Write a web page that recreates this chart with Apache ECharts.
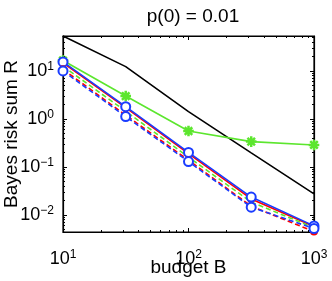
<!DOCTYPE html>
<html><head><meta charset="utf-8">
<script src="https://cdn.jsdelivr.net/npm/echarts@6/dist/echarts.min.js"></script>
<style>html,body{margin:0;padding:0;background:#fff;}#c{width:332px;height:281px;}</style>
</head><body><div id="c"></div>
<script>
// ---- data ----
var budgets = [10, 31.6, 100, 316, 1000];
var blackSolid = [53.5, 12.3, 1.42, 0.196, 0.0274];
var greenSolid = [16.5, 3.0, 0.56, 0.337, 0.287];
var redSolid = [14.8, 1.72, 0.19, 0.0215, 0.0057];
var blueSolid = [15.4, 1.8, 0.20, 0.0235, 0.0059];
var greenDashed = [12.5, 1.45, 0.16, 0.0185, 0.0054];
var redDashed = [10.8, 1.2, 0.138, 0.0152, 0.0045];
var blueDashed = [10.0, 1.12, 0.129, 0.0145, 0.0052];
var xMinorTicks = [20,30,40,50,60,70,80,90,200,300,400,500,600,700,800,900];
var yMinorTicks = [0.005,0.006,0.007,0.008,0.009,0.02,0.03,0.04,0.05,0.06,0.07,0.08,0.09,
                   0.2,0.3,0.4,0.5,0.6,0.7,0.8,0.9,2,3,4,5,6,7,8,9,20,30,40,50];
var titleText = 'p(0) = 0.01';
var xName = 'budget B';
var yName = 'Bayes risk sum R';

function pts(arr){ return budgets.map(function(b,i){ return [b, arr[i]]; }); }
var FONT = '"Liberation Sans", Arial, sans-serif';
var star = 'path://M9 0H11V20H9Z M0 9H20V11H0Z M2.2 3.6L3.6 2.2L17.8 16.4L16.4 17.8Z M16.4 2.2L17.8 3.6L3.6 17.8L2.2 16.4Z';
function fmt(v){
  var l = Math.log10(v), e = Math.round(l);
  if (Math.abs(l - e) > 1e-6) return '';
  return '{b|10}{s|' + (e < 0 ? '\u2212' + (-e) : e) + '}';
}
var rich = {
  b: {fontSize: 18, fontFamily: FONT, color: '#000'},
  s: {fontSize: 12, fontFamily: FONT, color: '#000', verticalAlign: 'bottom', padding: [0,0,9,0]}
};
var G = '#5ce62e', R = '#ff0000', B = '#1a3cff';
function line(name, arr, color, dashed, sym, size){
  return {
    name: name, type: 'line', data: pts(arr), xAxisIndex: 0, yAxisIndex: 0,
    lineStyle: {color: color, width: 1.6, type: dashed ? [5,3] : 'solid'},
    itemStyle: {color: color, borderColor: color, borderWidth: 1.6},
    symbol: sym || 'none', symbolSize: size || 0, showSymbol: !!sym, animation: false
  };
}
var chart = echarts.init(document.getElementById('c'), null, {renderer: 'canvas'});
var axisCommon = {
  type: 'log', logBase: 10,
  axisLine: {show: true, onZero: false, lineStyle: {color: '#000', width: 1.2}},
  axisTick: {show: true, inside: true, length: 4, lineStyle: {color: '#000'}},
  splitLine: {show: false}
};
function minorAxis(min, max, pos, vals){
  return {type: 'log', logBase: 10, min: min, max: max, position: pos,
    axisLine: {show: false, onZero: false}, axisLabel: {show: false}, splitLine: {show: false},
    axisTick: {show: true, inside: true, length: 2, customValues: vals, lineStyle: {color: '#000', width: 1}}};
}
chart.setOption({
  animation: false,
  title: {text: titleText, left: 188, top: 2, textAlign: 'center',
    textStyle: {fontSize: 19, fontWeight: 'normal', fontFamily: FONT, color: '#000'}},
  grid: {left: 63, right: 18, top: 36, bottom: 49, containLabel: false, outerBoundsMode: 'none',
    show: true, borderColor: '#000', borderWidth: 1.2, backgroundColor: 'transparent'},
  xAxis: [
    Object.assign({}, axisCommon, {min: 10, max: 1000, position: 'bottom',
      name: xName, nameLocation: 'middle', nameGap: 26, nameMoveOverlap: false,
      nameTextStyle: {fontSize: 19, fontFamily: FONT, color: '#000'},
      axisLabel: {formatter: fmt, rich: rich, margin: 17, showMinLabel: true, showMaxLabel: true}}),
    Object.assign({}, axisCommon, {min: 10, max: 1000, position: 'top', axisLabel: {show: false}}),
    minorAxis(10, 1000, 'bottom', xMinorTicks),
    minorAxis(10, 1000, 'top', xMinorTicks)
  ],
  yAxis: [
    Object.assign({}, axisCommon, {min: 0.0044, max: 53.5, position: 'left',
      name: yName, nameLocation: 'middle', nameGap: 42, nameMoveOverlap: false,
      nameTextStyle: {fontSize: 19, fontFamily: FONT, color: '#000'},
      axisLabel: {formatter: fmt, rich: rich, margin: 9}}),
    Object.assign({}, axisCommon, {min: 0.0044, max: 53.5, position: 'right', axisLabel: {show: false}}),
    minorAxis(0.0044, 53.5, 'left', yMinorTicks),
    minorAxis(0.0044, 53.5, 'right', yMinorTicks)
  ],
  series: [
    line('black', blackSolid, '#000', false),
    line('green', greenSolid, G, false, star, 9),
    line('red', redSolid, R, false, 'emptyCircle', 6),
    line('blue', blueSolid, B, false, 'emptyCircle', 9),
    line('green dashed', greenDashed, G, true),
    line('red dashed', redDashed, R, true, 'emptyCircle', 6),
    line('blue dashed', blueDashed, B, true, 'emptyCircle', 9)
  ]
});
</script></body></html>
